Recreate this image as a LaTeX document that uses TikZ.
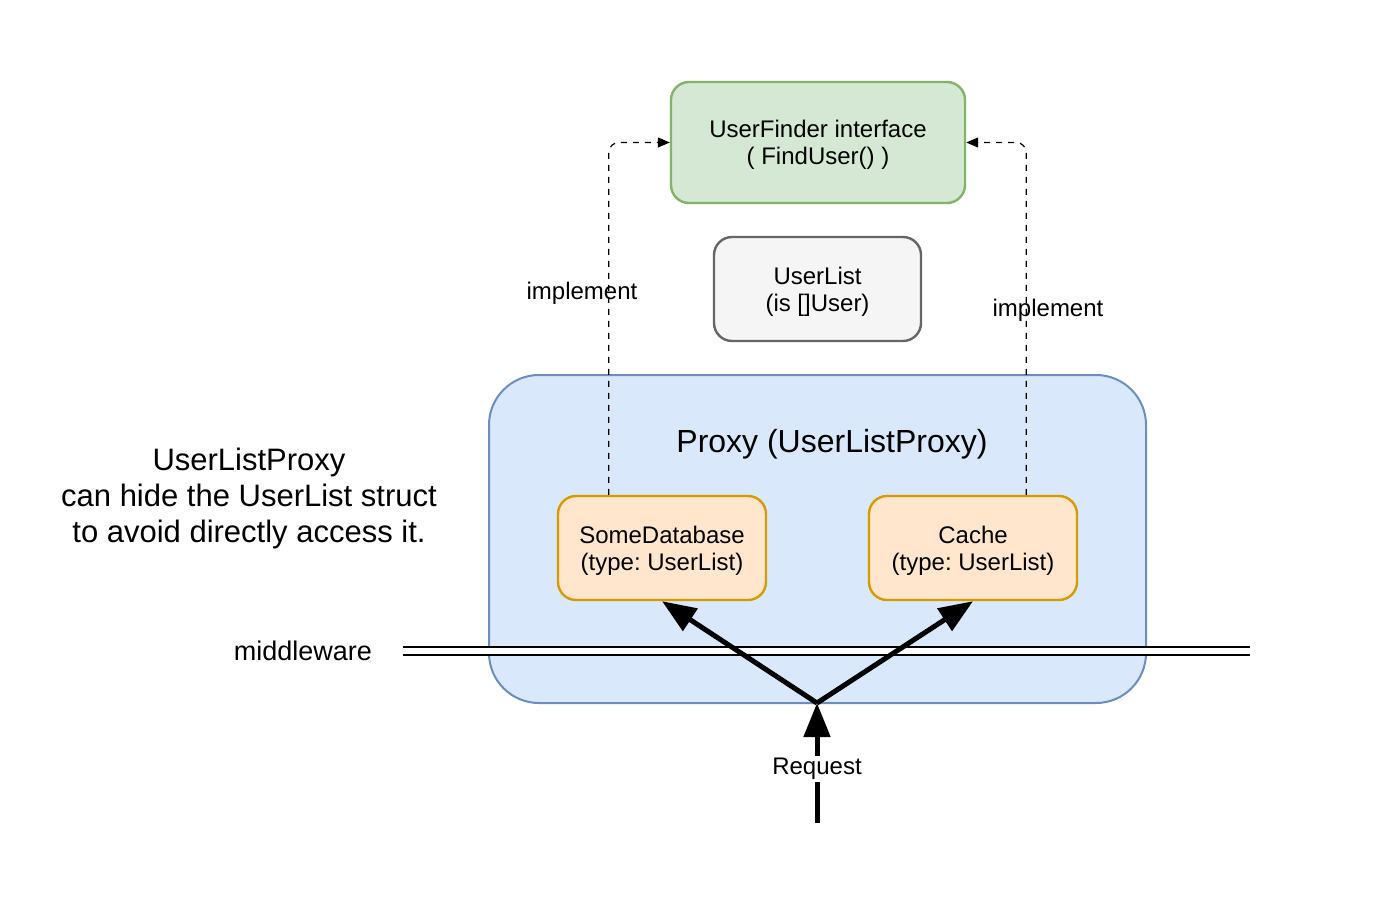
\documentclass[tikz,border=0pt]{standalone}
\usepackage{fontspec}
\setmainfont{Liberation Sans}
\frenchspacing
\usetikzlibrary{arrows.meta}
\definecolor{finderfill}{HTML}{D5E8D4}
\definecolor{finderline}{HTML}{82B366}
\definecolor{listfill}{HTML}{F5F5F5}
\definecolor{listline}{HTML}{666666}
\definecolor{proxyfill}{HTML}{DAE8FC}
\definecolor{proxyline}{HTML}{6C8EBF}
\definecolor{storefill}{HTML}{FFE6CC}
\definecolor{storeline}{HTML}{D79B00}
\tikzset{
  box/.style={draw, rounded corners=9pt, line width=1.2pt, align=center,
    inner sep=0pt, text depth=0pt, font=\fontsize{12}{13.5}\selectfont},
  storebox/.style={box, draw=storeline, fill=storefill,
    minimum width=104pt, minimum height=52pt},
  implarrow/.style={dashed, line width=0.6pt, rounded corners=5pt,
    -{Triangle[length=6pt,width=5pt]}},
  bigarrow/.style={line width=2.5pt, -{Triangle[length=17pt,width=13pt]}},
  lbl/.style={font=\fontsize{12}{13.5}\selectfont, inner sep=1pt}
}
\begin{document}
\begin{tikzpicture}[x=0.5pt,y=-0.5pt]
\useasboundingbox (0,0) rectangle (1384,898);
\node[box, draw=proxyline, fill=proxyfill, line width=1pt, rounded corners=25pt,
  minimum width=328.5pt, minimum height=164pt] (proxy) at (817.5,539) {};
\node[font=\fontsize{16}{18}\selectfont] (proxytitle) at (832,444) {Proxy (UserListProxy)};
\node[box, draw=finderline, fill=finderfill, minimum width=147pt, minimum height=60.5pt]
  (finder) at (818,142.5) {UserFinder interface\\( FindUser() )};
\node[box, draw=listline, fill=listfill, minimum width=103.5pt, minimum height=52pt]
  (userlist) at (817.5,289) {UserList\\(is []User)};
\node[storebox] (db) at (662,548) {SomeDatabase\\(type: UserList)};
\node[storebox] (cache) at (973,548) {Cache\\(type: UserList)};
\draw[implarrow] ([xshift=26pt]db.north west) |- (finder.west);
\draw[implarrow] ([xshift=-26pt]cache.north east) |- (finder.east);
\node[lbl] (implleft) at (582,293) {implement};
\node[lbl] (implright) at (1048,310) {implement};
\node[align=center, font=\fontsize{15.5}{18}\selectfont] (note) at (249,498)
  {UserListProxy\\can hide the UserList struct\\to avoid directly access it.};
\node[font=\fontsize{13.5}{15}\selectfont] (mwlabel) at (303,651) {middleware};
\coordinate (mwleft) at (403,651);
\coordinate (mwright) at (1250,651);
\draw[line width=1.1pt, double distance=3pt] (mwleft) -- (mwright);
\coordinate (fork) at (817,703);
\coordinate (req) at (817,823);
\draw[bigarrow] (req) -- (fork) node[lbl, pos=0.45, fill=white] (reqlabel) {Request};
\draw[bigarrow] (fork) -- (db.south);
\draw[bigarrow] (fork) -- (cache.south);
\end{tikzpicture}
\end{document}
